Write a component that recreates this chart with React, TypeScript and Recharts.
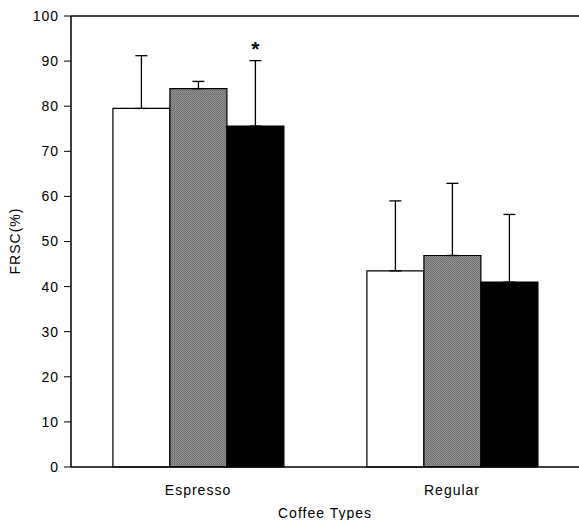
import { Bar, BarChart, ErrorBar, LabelList, ReferenceLine, XAxis, YAxis } from 'recharts'

const coffeeTypes = ['Espresso', 'Regular']
const whiteValues = [79.5, 43.5]
const grayValues = [83.9, 46.9]
const blackValues = [75.6, 41.0]
const whiteErrors = [11.7, 15.5]
const grayErrors = [1.6, 16.0]
const blackErrors = [14.5, 15.0]
const significance = ['*', '']
const yTicks = [0, 10, 20, 30, 40, 50, 60, 70, 80, 90, 100]

const data = coffeeTypes.map((name, i) => ({
  name,
  white: whiteValues[i],
  gray: grayValues[i],
  black: blackValues[i],
  whiteErr: [0, whiteErrors[i]],
  grayErr: [0, grayErrors[i]],
  blackErr: [0, blackErrors[i]],
  sig: significance[i],
}))

const font = '"Liberation Sans", Arial, sans-serif'
const textStyle = { letterSpacing: 1 }

function StarLabel(props: any) {
  const { x, y, width, height, index, value } = props
  if (!value) return null
  const pxPerUnit = height / blackValues[index]
  const errTop = y - blackErrors[index] * pxPerUnit
  return (
    <text x={x + width / 2} y={errTop - 5} textAnchor="middle" fontSize={21} fontWeight="bold" fontFamily={font} fill="#000">
      {value}
    </text>
  )
}

function YLabel() {
  return (
    <text
      x={15}
      y={241}
      transform="rotate(-90 15 241)"
      textAnchor="middle"
      dominantBaseline="central"
      fontSize={14}
      fontFamily={font}
      fill="#000"
      style={textStyle}
    >
      FRSC(%)
    </text>
  )
}

export default function App() {
  return (
    <div style={{ position: 'fixed', left: 0, top: 0, background: '#fff' }}>
      <BarChart
        width={579}
        height={520}
        data={data}
        margin={{ top: 16, right: 0, bottom: 0, left: 0 }}
        barCategoryGap="16.5%"
        barGap={0}
      >
        <defs>
          <pattern id="stipple" width="2" height="2" patternUnits="userSpaceOnUse">
            <rect width="2" height="2" fill="#969696" />
            <rect width="1" height="1" fill="#656565" />
            <rect x="1" y="1" width="1" height="1" fill="#747474" />
          </pattern>
        </defs>
        <XAxis
          dataKey="name"
          height={53}
          axisLine={{ stroke: '#000', strokeWidth: 1.5 }}
          tickLine={false}
          tickMargin={12}
          tick={{ fill: '#000', fontSize: 14, fontFamily: font, style: textStyle }}
          label={{ value: 'Coffee Types', position: 'insideBottom', offset: 2, fill: '#000', fontSize: 14, fontFamily: font, style: textStyle }}
        />
        <YAxis
          width={71}
          domain={[0, 100]}
          ticks={yTicks}
          interval={0}
          axisLine={{ stroke: '#000', strokeWidth: 1.5 }}
          tickLine={{ stroke: '#000' }}
          tickSize={7}
          tickMargin={5}
          tick={{ fill: '#000', fontSize: 14, fontFamily: font, style: textStyle }}
          label={<YLabel />}
        />
        <ReferenceLine y={100} stroke="#000" strokeWidth={1.5} />
        <Bar dataKey="white" fill="#fff" stroke="#000" strokeWidth={1.2} isAnimationActive={false}>
          <ErrorBar dataKey="whiteErr" width={6} stroke="#000" strokeWidth={1.3} direction="y" />
        </Bar>
        <Bar dataKey="gray" fill="url(#stipple)" stroke="#000" strokeWidth={1.2} isAnimationActive={false}>
          <ErrorBar dataKey="grayErr" width={6} stroke="#000" strokeWidth={1.3} direction="y" />
        </Bar>
        <Bar dataKey="black" fill="#000" stroke="#000" strokeWidth={1.2} isAnimationActive={false}>
          <ErrorBar dataKey="blackErr" width={6} stroke="#000" strokeWidth={1.3} direction="y" />
          <LabelList dataKey="sig" content={<StarLabel />} />
        </Bar>
      </BarChart>
    </div>
  )
}
